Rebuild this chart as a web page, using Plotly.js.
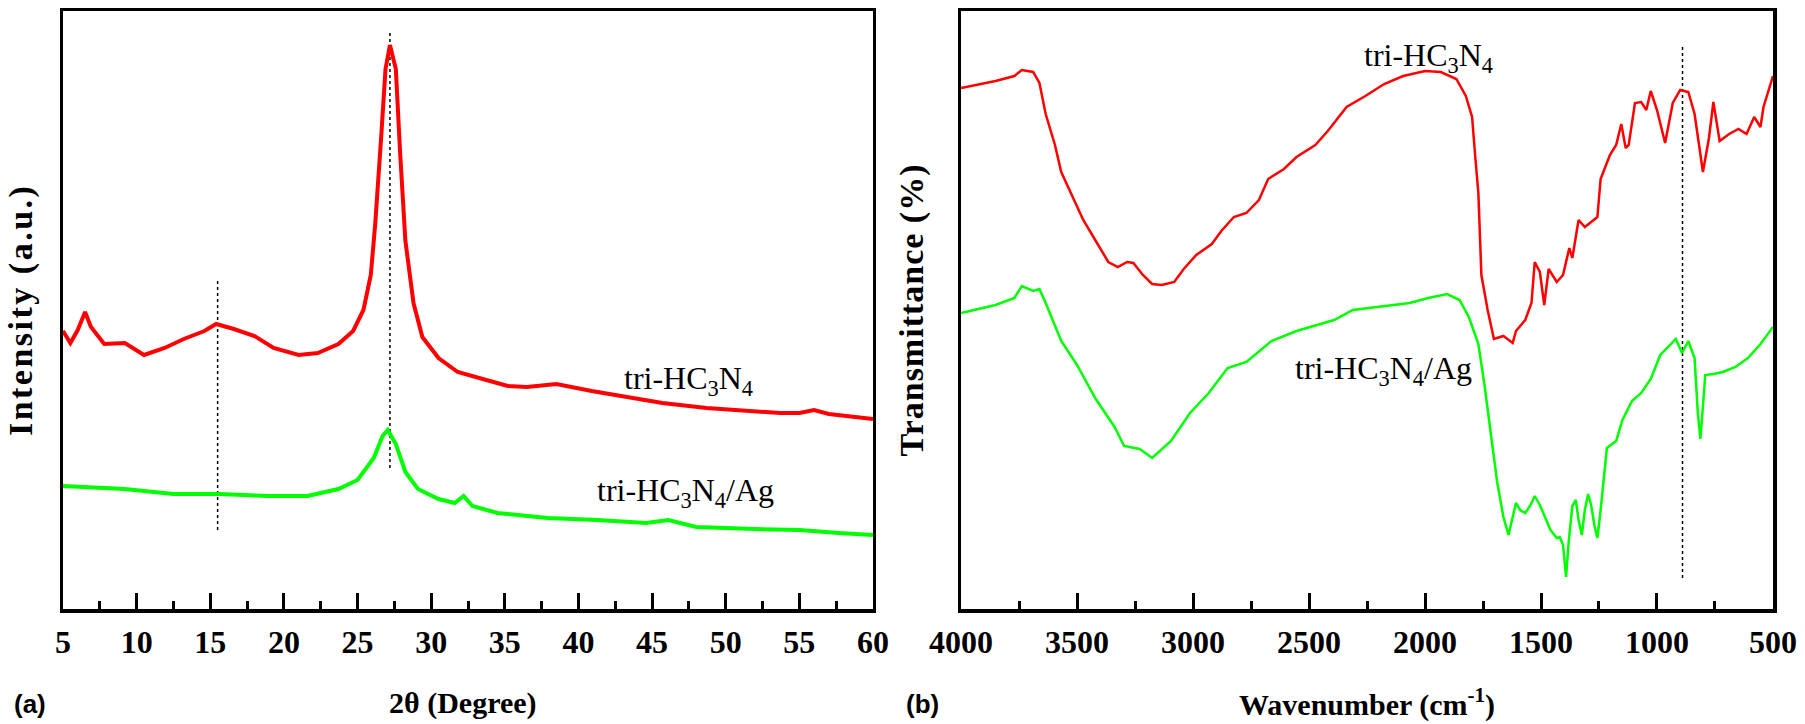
<!DOCTYPE html>
<html><head><meta charset="utf-8">
<script src="https://cdn.plot.ly/plotly-3.0.1.min.js"></script>
<style>body{margin:0;background:#fff}#plot{width:1805px;height:724px}</style>
</head><body><div id="plot"></div>
<script>
// ---- (a) XRD data: 2θ (degree) vs intensity (a.u.) ----
const xrdRedTheta = [5.0,5.5,6.0,6.5,6.9,7.8,9.2,10.5,11.9,13.2,14.6,15.4,16.6,18.0,19.3,21.0,22.3,23.7,24.7,25.4,25.9,26.2,26.6,26.9,27.2,27.6,27.9,28.25,28.8,29.4,30.5,31.8,33.5,35.2,36.5,38.5,40.9,43.0,45.7,48.7,51.4,53.7,55.0,56.0,57.0,58.0,60.0];
const xrdRedInt   = [278,266,279,297,282,265,266,254,261,270,278,285,280,273,261,254,256,265,278,299,334,385,471,540,564,540,454,368,306,272,251,237,230,223,222,225,218,213,206,201,198,196,196,199,195,193,190];
const xrdGreenTheta = [5.0,7.0,9.2,12.5,15.6,19.0,21.6,23.7,25.0,26.1,26.7,27.05,27.6,28.25,29.1,30.5,31.6,32.2,32.8,34.5,37.9,41.3,44.6,46.1,48.0,52.0,55.0,57.7,60.0];
const xrdGreenInt   = [123,122,120,115,115,113,113,120,129,151,173,179,165,137,120,110,106,113,103,96,91,89,86,89,82,80,79,76,74];
const xrdRefTheta = [15.5, 27.2];
const xrdRefTop = [328, 578];
const xrdRefBottom = [79, 141];
const xrdTicks = [5,10,15,20,25,30,35,40,45,50,55,60];

// ---- (b) FTIR data: wavenumber (cm-1) vs transmittance ----
const ftirRedWn = [4000,3851,3770,3738,3689,3662,3635,3595,3568,3527,3473,3419,3365,3324,3284,3257,3216,3176,3135,3081,3040,2986,2919,2878,2824,2770,2716,2676,2608,2554,2473,2419,2338,2257,2176,2094,2000,1932,1865,1824,1797,1784,1770,1757,1743,1730,1703,1662,1622,1608,1568,1541,1527,1505,1486,1467,1432,1405,1378,1365,1338,1311,1257,1243,1203,1176,1154,1135,1122,1095,1068,1046,1027,1000,965,932,900,865,838,802,776,757,730,689,649,614,581,554,541,500];
const ftirRedT  = [521,528,533,539,537,526,495,464,437,416,389,368,347,342,347,346,334,325,324,327,340,354,365,378,392,396,409,430,440,452,464,478,502,513,525,533,538,537,530,513,492,454,416,334,316,299,270,273,266,278,289,306,347,337,304,340,327,334,361,351,389,382,392,430,454,464,485,461,464,506,507,499,518,499,466,506,519,517,495,437,471,507,468,475,480,475,492,482,502,533];
const ftirGreenWn = [4000,3851,3770,3738,3689,3662,3635,3568,3500,3419,3338,3297,3230,3176,3095,3013,2932,2851,2770,2662,2554,2446,2392,2311,2176,2067,1986,1905,1851,1811,1770,1743,1716,1689,1662,1640,1620,1608,1590,1568,1545,1527,1505,1486,1459,1432,1419,1405,1392,1380,1365,1350,1338,1324,1311,1297,1284,1270,1257,1243,1230,1216,1176,1149,1108,1068,1027,986,919,892,865,838,824,813,802,792,757,716,662,608,554,500];
const ftirGreenT  = [296,304,311,323,318,320,306,268,244,210,182,163,160,151,168,196,216,241,247,268,278,285,289,299,303,306,311,315,309,292,265,223,175,127,92,74,94,106,99,96,104,113,104,94,79,71,72,64,32,69,103,109,89,74,99,115,104,84,71,99,129,161,168,189,208,216,230,254,270,256,268,251,196,170,203,234,235,237,242,251,265,282];
const ftirRefWn = [890];
const ftirRefTop = [565];
const ftirRefBottom = [31];
const ftirTicks = [4000,3500,3000,2500,2000,1500,1000,500];

const serif = 'Liberation Serif, Times New Roman, serif';
const red = '#ff0000', green = '#00ff00';

function refLines(xs, tops, bottoms, xa, ya) {
  const x = [], y = [];
  xs.forEach((v, i) => { x.push(v, v, null); y.push(bottoms[i], tops[i], null); });
  return {x, y, xaxis: xa, yaxis: ya, mode: 'lines', line: {color: '#000', width: 1.5, dash: 'dot'}, hoverinfo: 'skip', showlegend: false};
}

const data = [
  refLines(xrdRefTheta, xrdRefTop, xrdRefBottom, 'x', 'y'),
  {x: xrdRedTheta, y: xrdRedInt, xaxis: 'x', yaxis: 'y', mode: 'lines', line: {color: red, width: 4}, showlegend: false},
  {x: xrdGreenTheta, y: xrdGreenInt, xaxis: 'x', yaxis: 'y', mode: 'lines', line: {color: green, width: 4}, showlegend: false},
  refLines(ftirRefWn, ftirRefTop, ftirRefBottom, 'x2', 'y2'),
  {x: ftirRedWn, y: ftirRedT, xaxis: 'x2', yaxis: 'y2', mode: 'lines', line: {color: red, width: 2.5}, showlegend: false},
  {x: ftirGreenWn, y: ftirGreenT, xaxis: 'x2', yaxis: 'y2', mode: 'lines', line: {color: green, width: 2.5}, showlegend: false}
];

const tickFont = {family: serif, size: 32, color: '#000', weight: 'bold'};
const baseX = {showline: true, mirror: true, linecolor: '#000', linewidth: 3.5, ticks: 'inside', ticklen: 16, tickwidth: 3, tickcolor: '#000', showgrid: false, zeroline: false, tickfont: tickFont, ticklabelstandoff: 2};
const baseY = {showline: true, mirror: true, linecolor: '#000', linewidth: 3.5, ticks: '', showticklabels: false, showgrid: false, zeroline: false, range: [0, 598]};

function ann(o) { return Object.assign({showarrow: false, xanchor: 'center', yanchor: 'middle'}, o); }

const layout = {
  width: 1805, height: 724,
  margin: {l: 63, r: 32, t: 11, b: 115},
  paper_bgcolor: '#fff', plot_bgcolor: '#fff',
  xaxis: Object.assign({}, baseX, {domain: [0, 0.47368], range: [5, 60], tickvals: xrdTicks,
    minor: {ticks: 'inside', ticklen: 8, tickwidth: 3, tickcolor: '#000', dtick: 2.5, tick0: 5, showgrid: false}}),
  yaxis: Object.assign({}, baseY, {anchor: 'x'}),
  xaxis2: Object.assign({}, baseX, {domain: [0.52515, 1], range: [4000, 500], tickvals: ftirTicks, anchor: 'y2',
    minor: {ticks: 'inside', ticklen: 8, tickwidth: 3, tickcolor: '#000', dtick: 250, tick0: 500, showgrid: false}}),
  yaxis2: Object.assign({}, baseY, {anchor: 'x2'}),
  annotations: [
    ann({xref: 'paper', yref: 'paper', x: -0.0245, y: 0.5, textangle: -90, text: 'Intensity (a.u.)', font: {family: serif, size: 34, color: '#000', weight: 'bold'}}),
    ann({xref: 'paper', yref: 'paper', x: 0.4965, y: 0.5, textangle: -90, text: 'Transmittance (%)', font: {family: serif, size: 34, color: '#000', weight: 'bold'}}),
    ann({xref: 'paper', yref: 'paper', x: 0.2339, y: -0.157, text: '2θ (Degree)', font: {family: serif, size: 30, color: '#000', weight: 'bold'}}),
    ann({xref: 'paper', yref: 'paper', x: 0.7626, y: -0.157, text: 'Wavenumber (cm<sup>-1</sup>)', font: {family: serif, size: 30, color: '#000', weight: 'bold'}}),
    ann({xref: 'paper', yref: 'paper', x: -0.0193, y: -0.159, text: '(a)', font: {family: 'Liberation Sans, Arial, sans-serif', size: 26, color: '#000', weight: 'bold'}}),
    ann({xref: 'paper', yref: 'paper', x: 0.5029, y: -0.159, text: '(b)', font: {family: 'Liberation Sans, Arial, sans-serif', size: 26, color: '#000', weight: 'bold'}}),
    ann({xref: 'x', yref: 'y', x: 47.5, y: 229, text: 'tri-HC<sub>3</sub>N<sub>4</sub>', font: {family: serif, size: 32, color: '#000'}}),
    ann({xref: 'x', yref: 'y', x: 47.3, y: 117, text: 'tri-HC<sub>3</sub>N<sub>4</sub>/Ag', font: {family: serif, size: 32, color: '#000'}}),
    ann({xref: 'x2', yref: 'y2', x: 1983, y: 552, text: 'tri-HC<sub>3</sub>N<sub>4</sub>', font: {family: serif, size: 32, color: '#000'}}),
    ann({xref: 'x2', yref: 'y2', x: 2181, y: 239, text: 'tri-HC<sub>3</sub>N<sub>4</sub>/Ag', font: {family: serif, size: 32, color: '#000'}})
  ]
};

Plotly.newPlot('plot', data, layout, {displayModeBar: false, staticPlot: true}).then(function () {
  document.querySelectorAll('g.annotation text').forEach(function (t) {
    if (t.textContent === 'Intensity (a.u.)') t.style.letterSpacing = '2.5px';
    if (t.textContent === 'Transmittance (%)') t.style.letterSpacing = '1px';
  });
});
</script>
</body></html>
